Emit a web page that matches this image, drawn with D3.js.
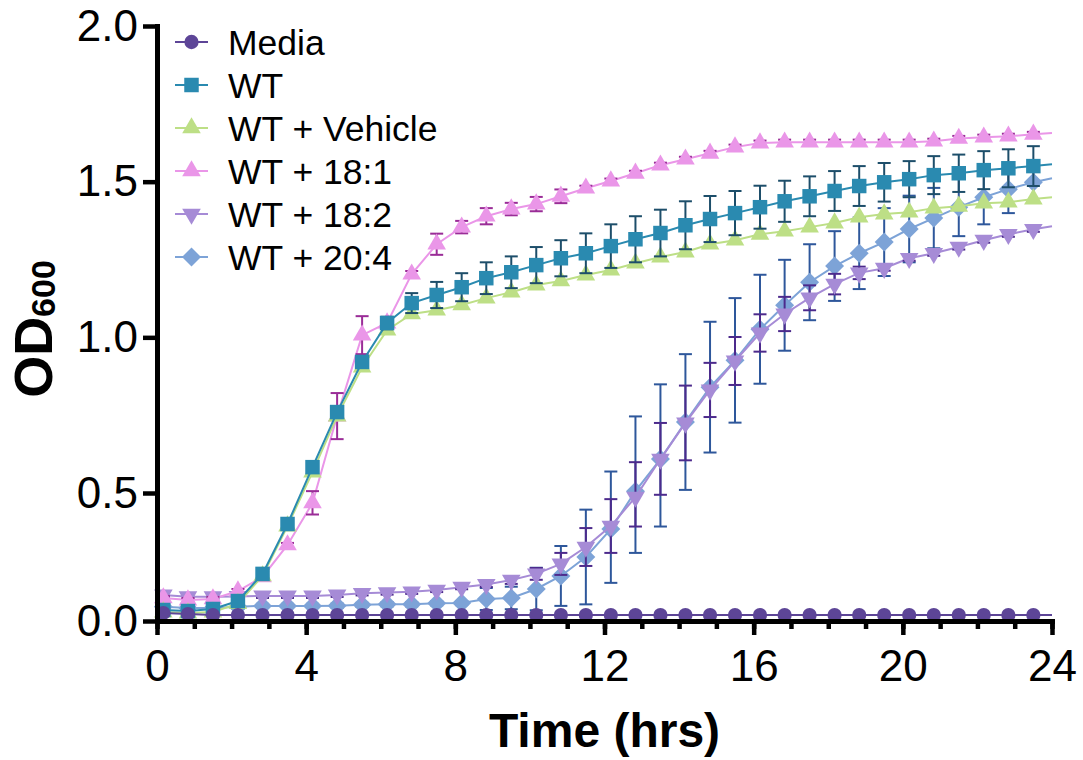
<!DOCTYPE html>
<html>
<head>
<meta charset="utf-8">
<script src="https://cdn.jsdelivr.net/npm/d3@7"></script>
<style>
  body { margin: 0; background: #fff; }
  svg { display: block; font-family: "Liberation Sans", Arial, sans-serif; }
</style>
</head>
<body>
<div id="chart"></div>
<script>
// sampling times (hrs)
const times = [0.17, 0.83, 1.50, 2.17, 2.83, 3.50, 4.17, 4.83, 5.50, 6.17, 6.83, 7.50,
  8.17, 8.83, 9.50, 10.17, 10.83, 11.50, 12.17, 12.83, 13.50, 14.17, 14.83, 15.50,
  16.17, 16.83, 17.50, 18.17, 18.83, 19.50, 20.17, 20.83, 21.50, 22.17, 22.83, 23.50];

const media = [0.031, 0.027, 0.023, 0.023, 0.023, 0.023, 0.023, 0.023, 0.023, 0.023, 0.023, 0.023,
  0.023, 0.023, 0.023, 0.023, 0.023, 0.023, 0.023, 0.023, 0.023, 0.023, 0.023, 0.023,
  0.023, 0.023, 0.023, 0.023, 0.023, 0.023, 0.023, 0.023, 0.023, 0.023, 0.023, 0.023];

const wt = [0.043, 0.039, 0.047, 0.078, 0.184, 0.379, 0.583, 0.760, 0.921, 1.046, 1.110, 1.136,
  1.161, 1.190, 1.209, 1.232, 1.254, 1.270, 1.293, 1.315, 1.335, 1.360, 1.380, 1.399,
  1.418, 1.437, 1.453, 1.470, 1.486, 1.498, 1.508, 1.521, 1.527, 1.537, 1.543, 1.550];
const wtSd = [0.008, 0.008, 0.008, 0.008, 0.008, 0.008, 0.008, 0.008, 0.015, 0.020, 0.032, 0.042,
  0.045, 0.051, 0.051, 0.058, 0.058, 0.064, 0.070, 0.074, 0.075, 0.077, 0.074, 0.071,
  0.069, 0.066, 0.064, 0.064, 0.064, 0.062, 0.058, 0.061, 0.060, 0.061, 0.061, 0.064];

const vehicle = [0.035, 0.031, 0.035, 0.068, 0.176, 0.371, 0.567, 0.747, 0.904, 1.023, 1.075, 1.087,
  1.104, 1.126, 1.145, 1.168, 1.181, 1.200, 1.216, 1.238, 1.258, 1.274, 1.299, 1.312,
  1.331, 1.341, 1.354, 1.367, 1.386, 1.396, 1.402, 1.415, 1.421, 1.431, 1.434, 1.444];

const ole = [0.090, 0.082, 0.086, 0.117, 0.172, 0.297, 0.461, 0.747, 1.007, 1.046, 1.203, 1.299,
  1.354, 1.389, 1.412, 1.428, 1.453, 1.479, 1.502, 1.527, 1.553, 1.572, 1.591, 1.611,
  1.624, 1.627, 1.627, 1.627, 1.627, 1.627, 1.627, 1.630, 1.639, 1.643, 1.646, 1.652];
const oleSd = [0.008, 0.008, 0.008, 0.008, 0.008, 0.008, 0.045, 0.074, 0.061, 0.008, 0.010, 0.034,
  0.020, 0.026, 0.020, 0.023, 0.022, 0.008, 0.008, 0.008, 0.008, 0.008, 0.008, 0.008,
  0.008, 0.008, 0.008, 0.008, 0.008, 0.008, 0.008, 0.008, 0.008, 0.008, 0.008, 0.008];

const lin = [0.102, 0.095, 0.095, 0.096, 0.098, 0.098, 0.098, 0.102, 0.108, 0.111, 0.114, 0.121,
  0.132, 0.143, 0.160, 0.184, 0.223, 0.289, 0.371, 0.484, 0.609, 0.725, 0.831, 0.924,
  1.014, 1.075, 1.127, 1.171, 1.207, 1.222, 1.254, 1.270, 1.290, 1.312, 1.331, 1.347];
const linSd = [0.008, 0.008, 0.008, 0.008, 0.008, 0.008, 0.008, 0.008, 0.008, 0.008, 0.008, 0.008,
  0.008, 0.010, 0.015, 0.023, 0.043, 0.074, 0.105, 0.115, 0.116, 0.120, 0.087, 0.077,
  0.060, 0.055, 0.040, 0.033, 0.020, 0.008, 0.008, 0.008, 0.008, 0.008, 0.008, 0.008];

const ara = [0.056, 0.051, 0.051, 0.056, 0.059, 0.059, 0.059, 0.060, 0.063, 0.065, 0.065, 0.069,
  0.070, 0.086, 0.090, 0.125, 0.176, 0.250, 0.359, 0.506, 0.609, 0.728, 0.840, 0.926,
  1.026, 1.103, 1.177, 1.229, 1.270, 1.306, 1.348, 1.383, 1.418, 1.450, 1.476, 1.498];
const araSd = [0.008, 0.008, 0.008, 0.008, 0.008, 0.008, 0.008, 0.008, 0.008, 0.008, 0.008, 0.008,
  0.008, 0.043, 0.044, 0.083, 0.117, 0.185, 0.210, 0.240, 0.240, 0.218, 0.210, 0.200,
  0.175, 0.146, 0.122, 0.112, 0.115, 0.109, 0.107, 0.097, 0.093, 0.087, 0.077, 0.060];

// where each curve meets the right edge (24 h)
const lineEnds = [0.023, 1.556, 1.450, 1.656, 1.357, 1.511];

const labels = ['Media', 'WT', 'WT + Vehicle', 'WT + 18:1', 'WT + 18:2', 'WT + 20:4'];
const xTicks = [0, 4, 8, 12, 16, 20, 24];
const yTicks = [0, 0.5, 1.0, 1.5, 2.0];

const width = 1083;
const height = 760;

const svg = d3.select('#chart').append('svg')
  .attr('width', width)
  .attr('height', height);

const x = d3.scaleLinear().domain([0, 24]).range([157, 1052]);
// the bottom segment of the y axis is drawn compressed, as in the original
const y = d3.scaleLinear().domain([0, 0.5, 2]).range([621, 493, 26]);

const diamond = {
  draw(ctx, size) {
    const r = Math.sqrt(size / 2);
    ctx.moveTo(0, -r); ctx.lineTo(r, 0); ctx.lineTo(0, r); ctx.lineTo(-r, 0); ctx.closePath();
  }
};

const series = [
  { name: labels[0], values: media, sd: null, end: lineEnds[0], color: '#5D4597', err: null, symbol: d3.symbolCircle, size: 160, rot: 0 },
  { name: labels[1], values: wt, sd: wtSd, end: lineEnds[1], color: '#2A8AB0', err: '#1D4E6A', symbol: d3.symbolSquare, size: 210, rot: 0 },
  { name: labels[2], values: vehicle, sd: null, end: lineEnds[2], color: '#BDDF86', err: null, symbol: d3.symbolTriangle, size: 150, rot: 0 },
  { name: labels[3], values: ole, sd: oleSd, end: lineEnds[3], color: '#EA96E8', err: '#9A2C97', symbol: d3.symbolTriangle, size: 150, rot: 0 },
  { name: labels[4], values: lin, sd: linSd, end: lineEnds[4], color: '#A68BD6', err: '#4C2A8C', symbol: d3.symbolTriangle, size: 150, rot: 180 },
  { name: labels[5], values: ara, sd: araSd, end: lineEnds[5], color: '#7DA3D7', err: '#2E579B', symbol: diamond, size: 180, rot: 0 }
];

const line = d3.line()
  .x((d) => x(d[0]))
  .y((d) => y(d[1]));

// last dataset underneath, first on top
const groups = svg.selectAll('g.series')
  .data(series.slice().reverse())
  .enter()
  .append('g')
  .attr('class', 'series');

groups.append('path')
  .attr('d', (s) => line(times.map((t, i) => [t, s.values[i]]).concat([[24, s.end]])))
  .attr('fill', 'none')
  .attr('stroke', (s) => s.color)
  .attr('stroke-width', 2);

groups.each(function (s) {
  if (!s.sd) return;
  const g = d3.select(this);
  const bars = g.selectAll('g.err')
    .data(times.map((t, i) => ({ t, v: s.values[i], sd: s.sd[i] })))
    .enter()
    .append('g')
    .attr('class', 'err')
    .attr('stroke', s.err)
    .attr('stroke-width', 2);
  bars.append('line')
    .attr('x1', (d) => x(d.t)).attr('x2', (d) => x(d.t))
    .attr('y1', (d) => y(d.v - d.sd)).attr('y2', (d) => y(d.v + d.sd));
  bars.append('line')
    .attr('x1', (d) => x(d.t) - 6.5).attr('x2', (d) => x(d.t) + 6.5)
    .attr('y1', (d) => y(d.v + d.sd)).attr('y2', (d) => y(d.v + d.sd));
  bars.append('line')
    .attr('x1', (d) => x(d.t) - 6.5).attr('x2', (d) => x(d.t) + 6.5)
    .attr('y1', (d) => y(d.v - d.sd)).attr('y2', (d) => y(d.v - d.sd));
});

groups.each(function (s) {
  d3.select(this).selectAll('path.mark')
    .data(times.map((t, i) => [t, s.values[i]]))
    .enter()
    .append('path')
    .attr('class', 'mark')
    .attr('d', d3.symbol().type(s.symbol).size(s.size))
    .attr('transform', (d) => `translate(${x(d[0])},${y(d[1])}) rotate(${s.rot})`)
    .attr('fill', s.color);
});

// axes
const xMinor = svg.append('g')
  .attr('transform', 'translate(0,621)')
  .call(d3.axisBottom(x).tickValues(d3.range(0, 25)).tickSize(8).tickFormat(''));
xMinor.select('.domain').remove();
xMinor.selectAll('line').attr('stroke-width', 4.5);

const xAxis = svg.append('g')
  .attr('transform', 'translate(0,621)')
  .call(d3.axisBottom(x).tickValues(xTicks).tickSize(14).tickSizeOuter(0).tickPadding(15));
xAxis.selectAll('line').attr('stroke-width', 4.5);

const yAxis = svg.append('g')
  .attr('transform', 'translate(157,0)')
  .call(d3.axisLeft(y).tickValues(yTicks).tickSize(14).tickSizeOuter(0).tickPadding(5)
    .tickFormat(d3.format('.1f')));
yAxis.selectAll('line').attr('stroke-width', 4.5);

[xAxis, yAxis].forEach((a) => {
  a.select('.domain').attr('stroke-width', 5).attr('stroke-linecap', 'square');
  a.selectAll('text').attr('font-size', 44).attr('fill', '#000')
    .attr('font-family', '"Liberation Sans", Arial, sans-serif');
});

// axis titles
svg.append('text')
  .attr('x', 604.5)
  .attr('y', 747)
  .attr('text-anchor', 'middle')
  .attr('font-size', 48)
  .attr('font-weight', 'bold')
  .text('Time (hrs)');

const yTitle = svg.append('text')
  .attr('transform', 'translate(52,329) rotate(-90)')
  .attr('text-anchor', 'middle')
  .attr('font-size', 54)
  .attr('font-weight', 'bold');
yTitle.append('tspan').text('OD');
yTitle.append('tspan').attr('font-size', 34).attr('dy', 3).text('600');

// legend
const legend = svg.selectAll('g.legend')
  .data(series)
  .enter()
  .append('g')
  .attr('class', 'legend')
  .attr('transform', (d, i) => `translate(0,${42 + i * 43})`);

legend.append('line')
  .attr('x1', 175).attr('x2', 208)
  .attr('stroke', (d) => d.color)
  .attr('stroke-width', 2);

legend.append('path')
  .attr('d', (d) => d3.symbol().type(d.symbol).size(d.size)())
  .attr('transform', (d) => `translate(191.5,0) rotate(${d.rot})`)
  .attr('fill', (d) => d.color);

legend.append('text')
  .attr('x', 228)
  .attr('y', 12.5)
  .attr('font-size', 35.5)
  .text((d) => d.name);
</script>
</body>
</html>
